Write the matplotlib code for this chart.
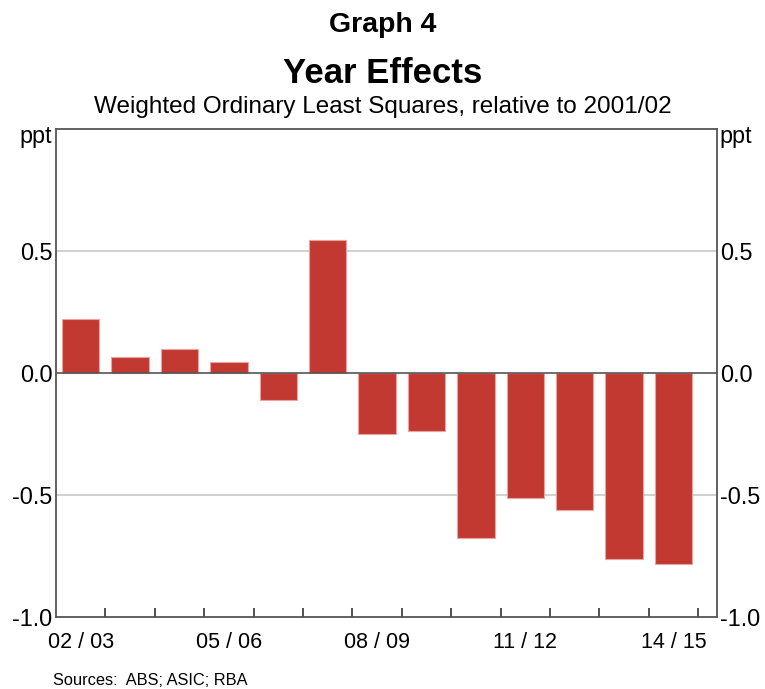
import matplotlib
matplotlib.use("Agg")
import matplotlib.pyplot as plt
import numpy as np

plt.rcParams['font.family'] = ['Liberation Sans', 'DejaVu Sans']

years = ["02/03", "03/04", "04/05", "05/06", "06/07", "07/08", "08/09",
         "09/10", "10/11", "11/12", "12/13", "13/14", "14/15"]
values = [0.22, 0.067, 0.10, 0.045, -0.109, 0.545, -0.25,
          -0.239, -0.676, -0.514, -0.56, -0.761, -0.783]
tick_labels = ["02 / 03", "05 / 06", "08 / 09", "11 / 12", "14 / 15"]
label_idx = [0, 3, 6, 9, 12]
yticks = [-1.0, -0.5, 0.0, 0.5]
ytick_labels = ["-1.0", "-0.5", "0.0", "0.5"]

fig = plt.figure(figsize=(7.65, 6.89), dpi=100)
ax = fig.add_axes([56/765, 1-617/689, (717.0-56)/765, (617-129)/689])

x = np.arange(len(values))
ax.bar(x, values, width=0.755, color='#C13931', edgecolor='#EBA3A0',
       linewidth=0.8, zorder=3)

ax.set_xlim(-0.5, 12.88)
ax.set_ylim(-1.0, 1.0)

for yv in [0.5, -0.5]:
    ax.axhline(yv, color='#C8C8C8', lw=1.2, zorder=1)
ax.axhline(0, color='#555555', lw=1.2, zorder=4)

for s in ax.spines.values():
    s.set_color('#555555')
    s.set_linewidth(1.3)

ax.set_xticks(x[label_idx])
ax.set_xticklabels(tick_labels, fontsize=15.5)
ax.set_xticks(np.arange(len(values)) + 0.5, minor=True)
ax.tick_params(axis='x', which='major', length=0, pad=10.5)
ax.tick_params(axis='x', which='minor', direction='in', length=6.5,
               width=1.2, color='#333333')

ax.set_yticks(yticks)
ax.set_yticklabels(ytick_labels, fontsize=16.8)
ax.tick_params(axis='y', length=0, pad=2.5, labelleft=True, labelright=True)

ax.text(-0.006, 0.972, "ppt", transform=ax.transAxes, ha='right',
        va='baseline', fontsize=16.8)
ax.text(1.003, 0.972, "ppt", transform=ax.transAxes, ha='left',
        va='baseline', fontsize=16.8)

fig.text(0.5, 1-32/689, "Graph 4", ha='center', va='baseline',
         fontsize=20.5, fontweight='bold')
fig.text(0.5, 1-82.7/689, "Year Effects", ha='center', va='baseline',
         fontsize=25, fontweight='bold')
fig.text(0.5, 1-112.7/689, "Weighted Ordinary Least Squares, relative to 2001/02",
         ha='center', va='baseline', fontsize=17.5)
fig.text(53/765, 1-685/689, "Sources:  ABS; ASIC; RBA", ha='left',
         va='baseline', fontsize=11.8)

fig.savefig("out.png", dpi=100)
